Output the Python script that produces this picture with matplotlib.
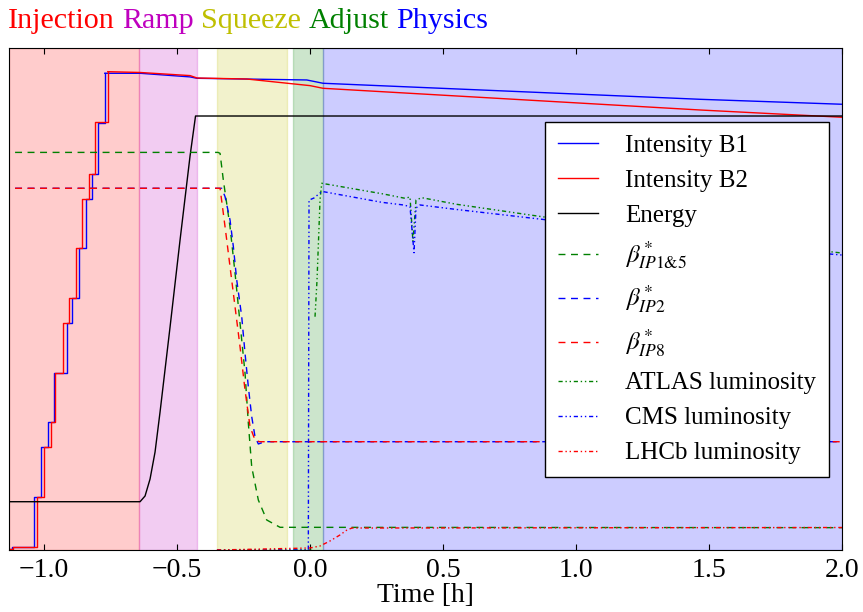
import numpy as np
import matplotlib
matplotlib.use("Agg")
import matplotlib.pyplot as plt
from matplotlib.mathtext import MathTextParser

plt.rcParams['font.family'] = 'serif'
plt.rcParams['font.serif'] = ['Liberation Serif', 'DejaVu Serif']
plt.rcParams['mathtext.fontset'] = 'stix'
plt.rcParams['axes.unicode_minus'] = True

# ---------------- data (time in hours, normalised values) ----------------
phase_names = ["Injection", "Ramp", "Squeeze", "Adjust", "Physics"]
phase_colors = ["r", "m", "y", "g", "b"]
phase_start = [-1.13, -0.643, -0.3485, -0.0628, 0.05]
phase_end = [-0.643, -0.4259, -0.0876, 0.05, 2.0]

ib1_step_t = [-1.13, -1.1214, -1.0376, -1.0124, -0.9861, -0.9624, -0.9147, -0.8936,
              -0.8684, -0.8432, -0.8207, -0.7959, -0.7718]
ib1_step_v = [0.002, 0.0066, 0.1062, 0.2058, 0.2544, 0.3532, 0.4528, 0.5014,
              0.601, 0.6986, 0.749, 0.85, 0.9496]
ib1_tail_t = [-0.7718, -0.639, -0.4511, -0.4248, -0.0124, 0.0489, 1.466, 2.0]
ib1_tail_v = [0.9496, 0.9496, 0.9424, 0.9396, 0.9363, 0.9297, 0.8978, 0.8879]

ib2_step_t = [-1.13, -1.115, -1.0274, -1.0011, -0.9748, -0.958, -0.9274, -0.9049,
              -0.8797, -0.856, -0.832, -0.8071, -0.7605]
ib2_step_v = [0.002, 0.0066, 0.1062, 0.2058, 0.2544, 0.3532, 0.4528, 0.5014,
              0.601, 0.6986, 0.749, 0.8526, 0.9528]
ib2_tail_t = [-0.7605, -0.639, -0.4511, -0.4248, -0.238, 0.0, 0.0489, 1.466, 2.0]
ib2_tail_v = [0.9528, 0.9512, 0.945, 0.9402, 0.9382, 0.925, 0.9197, 0.8765, 0.862]

energy_t = [-1.13, -0.6391, -0.6203, -0.6015, -0.5827, -0.5639, -0.5263, -0.4887,
            -0.4511, -0.4305, 2.0]
energy_v = [0.0962, 0.0962, 0.1076, 0.1414, 0.1952, 0.2749, 0.4442, 0.6175,
            0.7849, 0.8645, 0.8645]

b15_t = [-1.109, -0.346, -0.3383, -0.326, -0.3008, -0.282, -0.2632, -0.2444,
         -0.232, -0.2192, -0.1944, -0.1628, -0.1128, 2.0]
b15_v = [0.792, 0.792, 0.7902, 0.737, 0.644, 0.5518, 0.4522, 0.3526,
         0.253, 0.1653, 0.0996, 0.0598, 0.0452, 0.0445]

b2_t = [-1.109, -0.346, -0.332, -0.3195, -0.3008, -0.2883, -0.2756, -0.2568,
        -0.2444, -0.2320, -0.2192, -0.2068, -0.1944, -0.17, 2.0]
b2_v = [0.7205, 0.7205, 0.7205, 0.7038, 0.6574, 0.6042, 0.5378, 0.4647,
        0.3918, 0.3253, 0.2655, 0.2257, 0.2112, 0.2157, 0.2157]

b8_t = [-1.109, -0.346, -0.3383, -0.326, -0.3132, -0.3008, -0.282, -0.2632,
        -0.2444, -0.2256, -0.2068, -0.19, 2.0]
b8_v = [0.7205, 0.7205, 0.7205, 0.6707, 0.6175, 0.5643, 0.4847, 0.405,
        0.3187, 0.2456, 0.2191, 0.2157, 0.2157]

atlas_t = [-0.35, 0.005, np.nan, 0.0188, 0.0263, 0.032, 0.0376, 0.044, 0.2756,
           0.3571, 0.3759, 0.387, 0.3985, 0.42, 0.5515, 0.871, 1.955, 2.0]
atlas_v = [0.0, 0.0, np.nan, 0.4647, 0.5378, 0.6175, 0.6972, 0.7305, 0.7092,
           0.7006, 0.7032, 0.6145, 0.6972, 0.7018, 0.6886, 0.664, 0.5942, 0.5916]

cms_t = [-0.35, -0.0064, -0.0038, 0.015, 0.0376, 0.05, 0.2695, 0.3508, 0.3759,
         0.391, 0.3985, 0.4135, 0.545, 0.871, 1.955, 2.0]
cms_v = [0.0, 0.0, 0.697, 0.7012, 0.7112, 0.7138, 0.6926, 0.6873, 0.6840,
         0.5922, 0.6813, 0.6873, 0.6787, 0.6588, 0.5896, 0.5876]

lhcb_t = [-0.35, 0.0, 0.0376, 0.0752, 0.1128, 0.1391, 0.1579, 2.0]
lhcb_v = [0.0, 0.004, 0.008, 0.018, 0.03, 0.04, 0.0438, 0.0448]

xticks = [-1.0, -0.5, 0.0, 0.5, 1.0, 1.5, 2.0]


def safe_math(candidates):
    p = MathTextParser('agg')
    for c in candidates:
        try:
            p.parse(c, dpi=100)
            return c
        except Exception:
            continue
    return candidates[-1]


lab15 = safe_math([r'$\beta^*_{IP1&5}$', r'$\beta^*_{IP1\mathrm{\&}5}$',
                   r'$\beta^*_{IP1\,\&\,5}$', r'$\beta^*_{IP1,5}$'])

# ---------------- figure ----------------
fig = plt.figure(figsize=(8.63, 6.12), dpi=100)
ax = fig.add_axes([0.011, 0.1013, 0.9646, 0.8203])

for s, e, c in zip(phase_start, phase_end, phase_colors):
    ax.axvspan(s, e, color=c, alpha=0.2, zorder=0)

lw = 1.0
ax.plot(ib1_step_t, ib1_step_v, color='b', lw=lw, drawstyle='steps-post',
        label='Intensity B1')
ax.plot(ib1_tail_t, ib1_tail_v, color='b', lw=lw)
ax.plot(ib2_step_t, ib2_step_v, color='r', lw=lw, drawstyle='steps-post',
        label='Intensity B2')
ax.plot(ib2_tail_t, ib2_tail_v, color='r', lw=lw)
ax.plot(energy_t, energy_v, color='k', lw=lw, label='Energy')
dash = (0, (5, 4))
ax.plot(b15_t, b15_v, color='g', lw=lw, linestyle=dash, label=lab15)
ax.plot(b2_t, b2_v, color='b', lw=lw, linestyle=dash, label=r'$\beta^*_{IP2}$')
ax.plot(b8_t, b8_v, color='r', lw=lw, linestyle=dash, label=r'$\beta^*_{IP8}$')
dd = (0, (3, 2, 1, 2, 1, 2))
ax.plot(atlas_t, atlas_v, color='g', lw=lw, linestyle=dd, label='ATLAS luminosity')
ax.plot(cms_t, cms_v, color='b', lw=lw, linestyle=dd, label='CMS luminosity')
ax.plot(lhcb_t, lhcb_v, color='r', lw=lw, linestyle=dd, label='LHCb luminosity')

ax.set_xlim(-1.13, 2.0)
ax.set_ylim(0, 1)
ax.set_yticks([])
ax.set_xticks(xticks)
ax.set_xticklabels([f"{v:.1f}".replace('-', '\u2212') for v in xticks])
ax.tick_params(axis='x', direction='in', top=True, length=4, labelsize=20, pad=6)
ax.set_xlabel('Time [h]', fontsize=20, labelpad=0)

leg = ax.legend(loc='upper right', bbox_to_anchor=(0.9844, 0.8526), borderaxespad=0,
                fontsize=18, fancybox=False, framealpha=1, edgecolor='k',
                handlelength=1.6, handletextpad=1.1, labelspacing=0.5,
                borderpad=0.5)
leg.get_frame().set_linewidth(1.0)

# coloured phase title, words placed one after another
renderer = fig.canvas.get_renderer()
tfs = 21.6
xpos = 8.0
y0 = 1 - 28.5 / 612.0
for name, col in zip(phase_names, phase_colors):
    t = fig.text(xpos / fig.bbox.width, y0, name, color=col, fontsize=tfs,
                 va='baseline', ha='left')
    ex = t.get_window_extent(renderer)
    sp = fig.text(0, 0, "a a", fontsize=tfs)
    w2 = sp.get_window_extent(renderer).width
    sp.set_text("aa")
    w1 = sp.get_window_extent(renderer).width
    sp.remove()
    xpos = ex.x1 + (w2 - w1)

fig.savefig('out.png', dpi=100)
